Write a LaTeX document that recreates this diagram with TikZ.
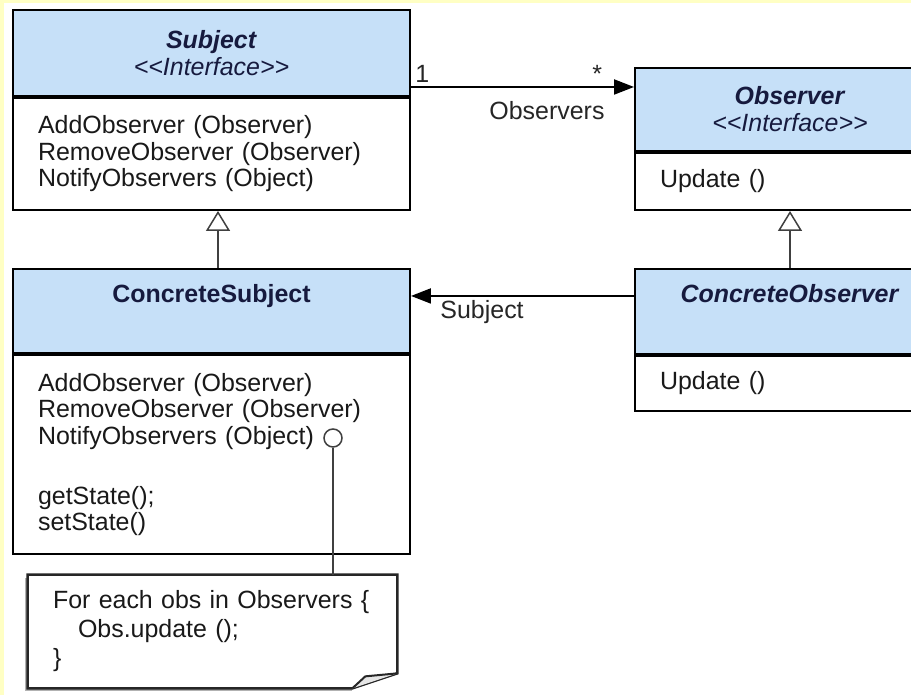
\documentclass[tikz,border=0pt]{standalone}
\usepackage{fontspec}
\setmainfont{Liberation Sans}
\usepackage{xcolor}
\usetikzlibrary{arrows.meta, positioning, calc, backgrounds}

\definecolor{headblue}{RGB}{198,224,248}
\definecolor{titlenavy}{RGB}{22,26,62}
\definecolor{bgyellow}{RGB}{255,255,196}

\newcommand{\stereo}[1]{\textit{\mbox{<}\mbox{<}#1\mbox{>}\mbox{>}}}

\begin{document}
\begin{tikzpicture}[
  x=0.02cm, y=-0.02cm,
  classhead/.style={draw, line width=0.04cm, fill=headblue, text=titlenavy, align=center, inner sep=0pt, font=\fontsize{14.2}{15.4}\selectfont},
  classbody/.style={draw, line width=0.04cm, fill=white, text=black!90, align=left, inner xsep=0.5cm, inner ysep=0pt, font=\fontsize{14.2}{15.1}\selectfont},
  assoc/.style={line width=0.04cm, -{Triangle[length=0.4cm, width=0.3cm]}},
  gen/.style={line width=0.03cm, black!75, -{Triangle[open, length=0.4cm, width=0.48cm, fill=white]}},
  tie/.style={line width=0.03cm, black!75},
  lbl/.style={font=\fontsize{14.2}{15}\selectfont, text=black!85, inner sep=2pt},
  notebox/.style={line width=0.05cm, black!85, fill=white, line join=miter}
]
  % Frame
  \useasboundingbox (0,0) rectangle (911,695);

  % Subject
  \node[classhead, minimum width=7.94cm, minimum height=1.72cm] (subjH) at (211.5,53)
    {\textbf{\textit{Subject}}\\\stereo{Interface}};
  \node[classbody, text width=6.94cm, minimum height=2.24cm, below=0pt of subjH] (subjB)
    {AddObserver (Observer)\\RemoveObserver (Observer)\\NotifyObservers (Object)};

  % Observer
  \node[classhead, minimum width=6.2cm, minimum height=1.66cm] (obsH) at (790,109.5)
    {\textbf{\textit{Observer}}\\\stereo{Interface}};
  \node[classbody, text width=5.2cm, minimum height=1.14cm, below=0pt of obsH] (obsB)
    {Update ()};

  % ConcreteSubject
  \node[classhead, minimum width=7.94cm, minimum height=1.68cm, below=1.14cm of subjB] (cSubjH)
    {\textbf{ConcreteSubject}\\\strut};
  \node[classbody, text width=6.94cm, minimum height=3.98cm, below=0pt of cSubjH] (cSubjB)
    {AddObserver (Observer)\\RemoveObserver (Observer)\\NotifyObservers (Object)\\[0.67cm]getState();\\setState()};

  % ConcreteObserver
  \node[classhead, minimum width=6.2cm, minimum height=1.7cm, below=1.14cm of obsB] (cObsH)
    {\textbf{\textit{ConcreteObserver}}\\\strut};
  \node[classbody, text width=5.2cm, minimum height=1.1cm, below=0pt of cObsH] (cObsB)
    {Update ()};

  % Note
  \node[align=left, text width=6.38cm, inner xsep=0.5cm, minimum height=2.26cm,
        font=\fontsize{14.2}{16.5}\selectfont, text=black!90] (note) at (212.5,631.5)
    {For each obs in Observers \{\\\hspace*{0.5cm}Obs.update ();\\\}};
  \begin{pgfonlayer}{background}
    \fill[bgyellow] (0,0) rectangle (911,695);
    \fill[white] (4,3) rectangle (911,695);
    \fill[black!30] ([xshift=-0.06cm, yshift=-0.06cm]note.north west) rectangle ([xshift=-0.9cm, yshift=-0.06cm]note.south east);
    \draw[notebox] (note.north west) -- (note.north east) -- ([yshift=0.3cm]note.south east)
      -- ([xshift=-0.9cm]note.south east) -- (note.south west) -- cycle;
    \draw[line width=0.04cm, black!85, fill=black!10] ([xshift=-0.9cm]note.south east)
      -- ([xshift=-0.64cm, yshift=0.24cm]note.south east) -- ([yshift=0.3cm]note.south east);
  \end{pgfonlayer}

  % Lollipop
  \node[circle, draw, line width=0.03cm, black!75, fill=white, minimum size=0.36cm, inner sep=0pt] (lolly) at (333,438) {};
  \draw[tie] (lolly) -- (lolly |- note.north);

  % Generalizations
  \draw[gen] ([xshift=0.13cm]cSubjH.north) -- ([xshift=0.13cm]subjB.south);
  \draw[gen] (cObsH.north) -- (obsB.south);

  % Associations
  \coordinate (toObs) at ([yshift=-0.68cm]subjH.east);
  \draw[assoc] (toObs) -- (toObs -| obsH.west)
    node[lbl, pos=0, above right] {1}
    node[lbl, pos=1, above left, xshift=-0.55cm] {*}
    node[lbl, pos=1, below left, xshift=-0.5cm, yshift=-0.2cm] {Observers};
  \coordinate (toSubj) at ([yshift=0.31cm]cObsH.west);
  \draw[assoc] (toSubj) -- (toSubj -| cSubjH.east)
    node[lbl, pos=1, below right, xshift=0.5cm] {Subject};

\end{tikzpicture}
\end{document}
